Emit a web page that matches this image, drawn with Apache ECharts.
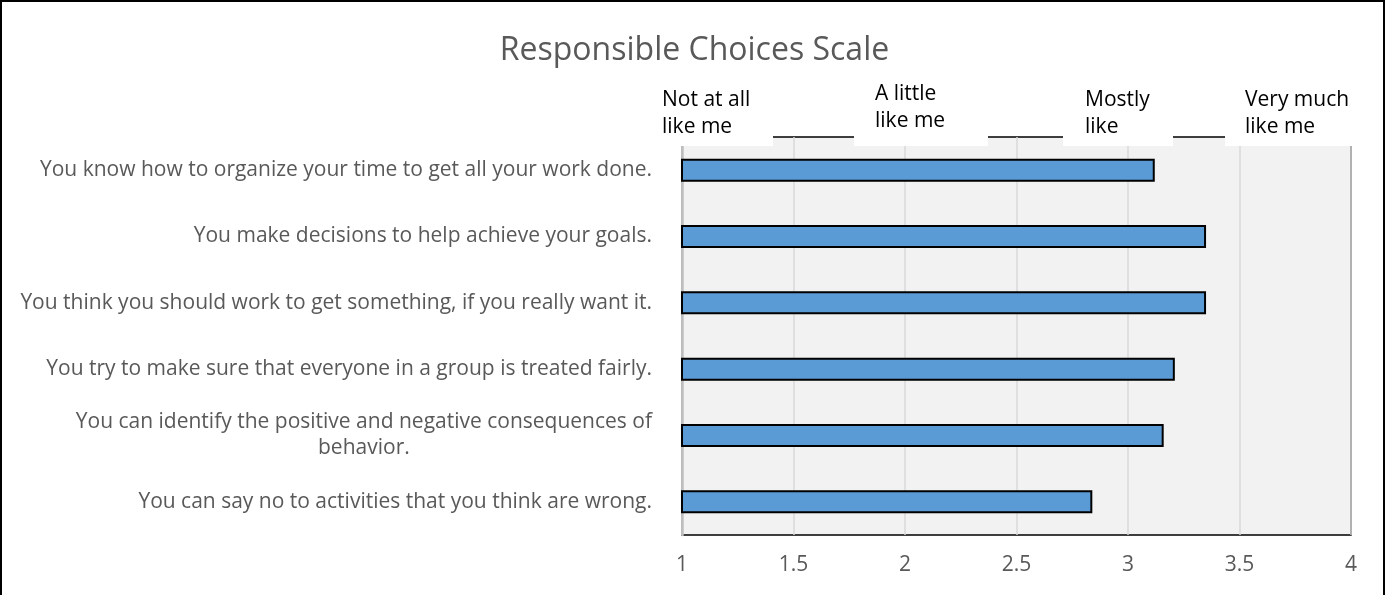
<!DOCTYPE html>
<html>
<head>
<meta charset="utf-8">
<script src="https://cdn.jsdelivr.net/npm/echarts@6/dist/echarts.min.js"></script>
<style>
  html, body { margin: 0; padding: 0; background: #fff; }
  #chart { width: 1389px; height: 595px; }
</style>
</head>
<body>
<div id="chart"></div>
<script>
const titleText = 'Responsible Choices Scale';
const categories = [
  'You know how to organize your time to get all your work done.',
  'You make decisions to help achieve your goals.',
  'You think you should work to get something, if you really want it.',
  'You try to make sure that everyone in a group is treated fairly.',
  'You can identify the positive and negative consequences of\nbehavior.',
  'You can say no to activities that you think are wrong.'
];
const values = [3.12, 3.35, 3.35, 3.21, 3.16, 2.84];
const scaleLabels = ['Not at all\nlike me', 'A little\nlike me', 'Mostly\nlike', 'Very much\nlike me'];
const xMin = 1, xMax = 4, xInterval = 0.5;

const FONT = 'Open Sans';
const GREY = '#595959';

const chart = echarts.init(document.getElementById('chart'), null, { renderer: 'canvas' });

// header label boxes (white text boxes overlapping the plot top)
const boxes = [
  { x: 652, y: 78, w: 121, h: 68, tx: 662, ty: 87 },
  { x: 854, y: 74, w: 134, h: 72, tx: 875, ty: 81 },
  { x: 1063, y: 78, w: 110, h: 68, tx: 1085, ty: 87 },
  { x: 1225, y: 78, w: 132, h: 68, tx: 1245, ty: 87 }
];
const graphics = [];
boxes.forEach((b, i) => {
  graphics.push({
    type: 'rect', z: 100,
    shape: { x: b.x, y: b.y, width: b.w, height: b.h },
    style: { fill: '#ffffff' }
  });
  graphics.push({
    type: 'text', z: 101, x: b.tx, y: b.ty,
    style: {
      text: scaleLabels[i], fill: '#000000', font: '21px "' + FONT + '"',
      lineHeight: 27, textAlign: 'left', textVerticalAlign: 'top'
    }
  });
});
graphics.push({
  type: 'rect', z: 200, silent: true,
  shape: { x: 1, y: 1, width: 1383, height: 640 },
  style: { fill: 'none', stroke: '#000', lineWidth: 2 }
});

const option = {
  animation: false,
  backgroundColor: '#ffffff',
  title: {
    text: titleText, left: 'center', top: 30,
    textStyle: { fontFamily: FONT, fontSize: 32, fontWeight: 'normal', color: GREY }
  },
  grid: {
    left: 682, right: 38, top: 137, bottom: 60,
    show: true, backgroundColor: '#f2f2f2', borderColor: '#000', borderWidth: 1.5
  },
  xAxis: {
    type: 'value', min: xMin, max: xMax, interval: xInterval,
    axisLine: { show: false }, axisTick: { show: false },
    splitLine: { show: true, lineStyle: { color: '#d9d9d9', width: 1.5 } },
    axisLabel: { fontFamily: FONT, fontSize: 21, color: GREY, margin: 20 }
  },
  yAxis: {
    type: 'category', data: categories, inverse: true,
    axisLine: { show: true, lineStyle: { color: '#bfbfbf', width: 2.5 } },
    axisTick: { show: false },
    axisLabel: {
      margin: 30, fontFamily: FONT, fontSize: 21, color: GREY, lineHeight: 26,
      formatter: function (v) {
        if (v.indexOf('\n') >= 0) {
          return v.split('\n').map(s => '{c|' + s + '}').join('\n');
        }
        return v;
      },
      rich: {
        c: { align: 'center', fontFamily: FONT, fontSize: 21, color: GREY, lineHeight: 26 }
      }
    }
  },
  series: [{
    type: 'bar', data: values, barWidth: 23,
    itemStyle: { color: '#5b9bd5', borderColor: '#000', borderWidth: 2 }
  }],
  graphic: graphics
};
chart.setOption(option);
</script>
</body>
</html>
